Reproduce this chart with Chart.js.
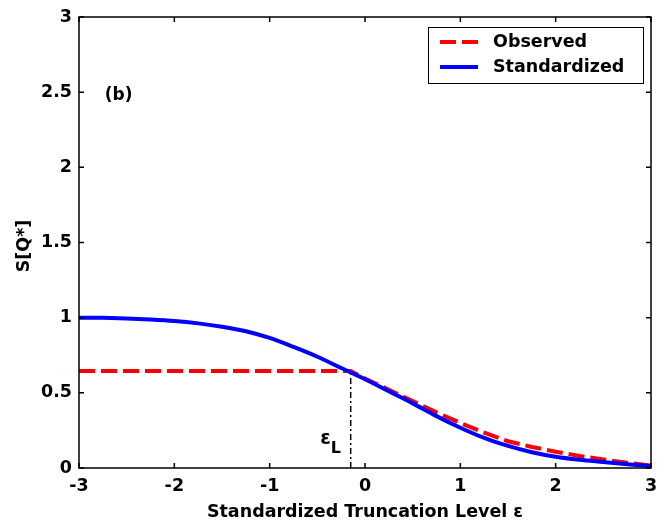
<!DOCTYPE html>
<html>
<head>
<meta charset="utf-8">
<script src="https://cdn.jsdelivr.net/npm/chart.js@4/dist/chart.umd.min.js"></script>
<style>
  html, body { margin: 0; padding: 0; background: #fff; }
  #wrap { width: 659px; height: 523px; }
</style>
</head>
<body>
<div id="wrap"><canvas id="chart" width="659" height="523"></canvas></div>
<script>
(() => {
  'use strict';

  // ---------- data ----------
  const xStd = [-3, -2.75, -2.5, -2.25, -2, -1.75, -1.5, -1.25, -1, -0.75, -0.5, -0.25,
                0, 0.25, 0.5, 0.75, 1, 1.25, 1.5, 1.75, 2, 2.25, 2.5, 2.75, 3];
  const standardized = [1.0, 0.999, 0.995, 0.988, 0.978, 0.962, 0.94, 0.91, 0.865, 0.805, 0.74, 0.665,
                        0.59, 0.51, 0.43, 0.345, 0.268, 0.2, 0.147, 0.105, 0.075, 0.055, 0.04, 0.025, 0.013];

  const xObs = [-3, -0.15, 0, 0.25, 0.5, 0.75, 1, 1.25, 1.5, 1.75, 2, 2.25, 2.5, 2.75, 3];
  const observed = [0.645, 0.645, 0.595, 0.52, 0.445, 0.37, 0.3, 0.235, 0.178, 0.14, 0.108, 0.08, 0.057, 0.035, 0.015];

  const epsL = -0.15;
  const epsLevel = 0.645;

  const xTicks = [-3, -2, -1, 0, 1, 2, 3];
  const yTicks = [0, 0.5, 1, 1.5, 2, 2.5, 3];

  const FONT = 'DejaVu Sans';
  const pts = (xs, ys) => xs.map((x, i) => ({ x, y: ys[i] }));

  // ---------- box, inward ticks, legend and labels ----------
  const decorations = {
    id: 'decorations',
    afterDraw(chart) {
      const { ctx, chartArea: a, scales: { x, y } } = chart;
      ctx.save();
      ctx.strokeStyle = '#000';
      ctx.lineWidth = 1.5;
      ctx.strokeRect(a.left, a.top, a.right - a.left, a.bottom - a.top);

      const tl = 5;
      ctx.beginPath();
      for (const v of xTicks) {
        const px = x.getPixelForValue(v);
        ctx.moveTo(px, a.bottom); ctx.lineTo(px, a.bottom - tl);
        ctx.moveTo(px, a.top); ctx.lineTo(px, a.top + tl);
      }
      for (const v of yTicks) {
        const py = y.getPixelForValue(v);
        ctx.moveTo(a.left, py); ctx.lineTo(a.left + tl, py);
        ctx.moveTo(a.right, py); ctx.lineTo(a.right - tl, py);
      }
      ctx.stroke();

      ctx.fillStyle = '#000';
      ctx.textBaseline = 'middle';

      // y axis title
      ctx.save();
      ctx.translate(24, 246);
      ctx.rotate(-Math.PI / 2);
      ctx.textAlign = 'center';
      ctx.font = `bold 17.5px "${FONT}"`;
      ctx.fillText('S[Q*]', 0, 0);
      ctx.restore();

      // panel tag
      ctx.textAlign = 'left';
      ctx.font = `bold 17px "${FONT}"`;
      ctx.fillText('(b)', x.getPixelForValue(-2.73), y.getPixelForValue(2.48));

      // epsilon_L label
      const ex = x.getPixelForValue(-0.47), ey = y.getPixelForValue(0.19);
      ctx.font = `bold 19px "${FONT}"`;
      ctx.fillText('ε', ex, ey);
      const ew = ctx.measureText('ε').width;
      ctx.font = `bold 16px "${FONT}"`;
      ctx.fillText('L', ex + ew, ey + 9);

      // legend
      const lx = 428, ly = 27, lw = 215, lh = 56;
      ctx.fillStyle = '#fff';
      ctx.fillRect(lx, ly, lw, lh);
      ctx.lineWidth = 1;
      ctx.strokeStyle = '#000';
      ctx.strokeRect(lx + 0.5, ly + 0.5, lw, lh);

      ctx.lineWidth = 4;
      ctx.strokeStyle = '#ff0000';
      ctx.setLineDash([16, 6]);
      ctx.beginPath(); ctx.moveTo(440, 42); ctx.lineTo(478, 42); ctx.stroke();
      ctx.setLineDash([]);
      ctx.strokeStyle = '#0000ff';
      ctx.beginPath(); ctx.moveTo(440, 67); ctx.lineTo(478, 67); ctx.stroke();

      ctx.fillStyle = '#000';
      ctx.font = `bold 17.5px "${FONT}"`;
      ctx.fillText('Observed', 493, 42);
      ctx.fillText('Standardized', 493, 67);
      ctx.restore();
    },
  };

  const tickFont = { family: FONT, size: 17.5, weight: 'bold' };

  new Chart(document.getElementById('chart'), {
    type: 'line',
    data: {
      datasets: [
        {
          label: 'Standardized',
          data: pts(xStd, standardized),
          borderColor: '#0000ff',
          borderWidth: 4,
          pointRadius: 0,
          cubicInterpolationMode: 'monotone',
          order: 0,
        },
        {
          label: 'Observed',
          data: pts(xObs, observed),
          borderColor: '#ff0000',
          borderWidth: 4,
          borderDash: [16, 6],
          pointRadius: 0,
          tension: 0,
          order: 1,
        },
        {
          label: 'eps',
          data: [{ x: epsL, y: 0 }, { x: epsL, y: epsLevel }],
          borderColor: '#000',
          borderWidth: 1.5,
          borderDash: [6, 3, 2, 3],
          pointRadius: 0,
          order: 2,
        },
      ],
    },
    options: {
      responsive: false,
      animation: false,
      layout: { padding: { top: 17, right: 8, left: 0, bottom: 0 } },
      plugins: { legend: { display: false }, tooltip: { enabled: false } },
      scales: {
        x: {
          type: 'linear',
          min: -3, max: 3,
          afterBuildTicks: s => { s.ticks = xTicks.map(v => ({ value: v })); },
          afterFit: s => { s.height = 55; s.paddingLeft = 0; s.paddingRight = 0; },
          grid: { display: false, drawTicks: false },
          border: { display: false },
          ticks: { color: '#000', font: tickFont, padding: 8, callback: v => String(v) },
          title: {
            display: true,
            text: 'Standardized Truncation Level ε',
            color: '#000',
            font: tickFont,
            padding: { top: 2, bottom: 0 },
          },
        },
        y: {
          type: 'linear',
          min: 0, max: 3,
          afterBuildTicks: s => { s.ticks = yTicks.map(v => ({ value: v })); },
          afterFit: s => { s.width = 79; s.paddingTop = 0; s.paddingBottom = 0; },
          grid: { display: false, drawTicks: false },
          border: { display: false },
          ticks: { color: '#000', font: tickFont, padding: 7, callback: v => String(v) },
        },
      },
    },
    plugins: [decorations],
  });
})();
</script>
</body>
</html>
